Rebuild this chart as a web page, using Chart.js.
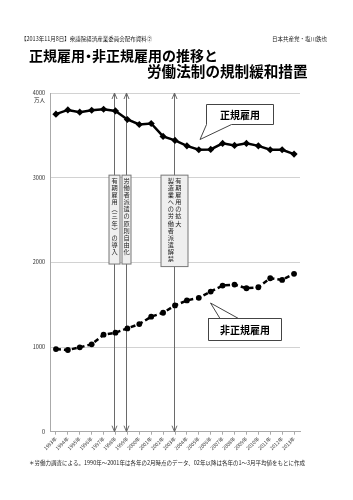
<!DOCTYPE html>
<html lang="ja">
<head>
<meta charset="utf-8">
<script src="https://cdn.jsdelivr.net/npm/chart.js@4/dist/chart.umd.min.js"></script>
<style>
  html, body { margin: 0; padding: 0; background: #fff; }
  #wrap { width: 353px; height: 500px; }
</style>
</head>
<body>
<div id="wrap"><canvas id="employChart" width="353" height="500"></canvas></div>
<script>
const years = ['1993年', '1994年', '1995年', '1996年', '1997年', '1998年', '1999年', '2000年', '2001年', '2002年', '2003年',
  '2004年', '2005年', '2006年', '2007年', '2008年', '2009年', '2010年', '2011年', '2012年', '2013年'];
// 万人
const regular = [3750, 3800, 3773, 3796, 3808, 3788, 3687, 3628, 3640, 3487, 3440,
  3376, 3330, 3334, 3405, 3381, 3405, 3376, 3330, 3330, 3279];
const nonRegular = [976, 965, 996, 1032, 1146, 1169, 1220, 1271, 1358, 1405, 1491,
  1550, 1581, 1655, 1726, 1738, 1694, 1706, 1812, 1793, 1864];

const reformYears = ['1998年', '1999年', '2003年'];
const reformTexts = [
  ['有期雇用︵三年︶の導入'],
  ['労働者派遣の原則自由化'],
  ['有期雇用の拡大', '製造業への労働者派遣解禁'],
];

const headerLeft = '【2013年11月8日】衆議院経済産業委員会配布資料②';
const headerRight = '日本共産党・塩川鉄也';
const titleA = ['正規雇用', '・', '非正規雇用の推移と'];
const titleB = '労働法制の規制緩和措置';
const footnote = '＊労働力調査による。1990年～2001年は各年の2月時点のデータ、02年以降は各年の1～3月平均値をもとに作成';

const JP = '"Noto Sans CJK JP", "Noto Sans", sans-serif';

// arrows + vertical text boxes, drawn under the lines
const reformPlugin = {
  id: 'reforms',
  beforeDatasetsDraw(chart) {
    const { ctx, scales: { x, y } } = chart;
    const top = y.getPixelForValue(4000);
    const bottom = y.getPixelForValue(0);
    ctx.save();
    reformYears.forEach((yr, i) => {
      const px = Math.round(x.getPixelForValue(years.indexOf(yr))) - 0.5;
      ctx.strokeStyle = '#6a6a6a';
      ctx.lineWidth = 1;
      ctx.beginPath();
      ctx.moveTo(px, top);
      ctx.lineTo(px, bottom);
      // arrow heads
      ctx.moveTo(px - 2.5, top + 6);
      ctx.lineTo(px, top);
      ctx.lineTo(px + 2.5, top + 6);
      ctx.moveTo(px - 2.5, bottom - 6);
      ctx.lineTo(px, bottom);
      ctx.lineTo(px + 2.5, bottom - 6);
      ctx.stroke();

      const cols = reformTexts[i];
      const w = cols.length > 1 ? 27 : (i === 0 ? 11 : 9);
      const bTop = y.getPixelForValue(3030);
      const bBot = y.getPixelForValue(cols.length > 1 ? 1950 : 1980);
      ctx.fillStyle = '#efefef';
      ctx.fillRect(px - w / 2, bTop, w, bBot - bTop);
      ctx.strokeStyle = '#777';
      ctx.strokeRect(px - w / 2, bTop, w, bBot - bTop);

      ctx.fillStyle = '#222';
      ctx.font = '6.2px ' + JP;
      ctx.textAlign = 'center';
      ctx.textBaseline = 'middle';
      cols.forEach((txt, c) => {
        // vertical writing, columns right to left
        const cx = cols.length > 1 ? px + 3.8 - c * 7.5 : px;
        [...txt].forEach((ch, k) => {
          ctx.fillText(ch, cx, bTop + 5.5 + k * 7.1);
        });
      });
    });
    ctx.restore();
  },
  afterDraw(chart) {
    const { ctx, scales: { y } } = chart;
    ctx.save();
    ctx.fillStyle = '#222';
    ctx.textBaseline = 'alphabetic';

    ctx.font = '5.5px ' + JP;
    ctx.textAlign = 'left';
    ctx.fillText(headerLeft, 21, 41);
    ctx.fillText(headerRight, 272, 41);

    // title: middle dot is set narrow
    ctx.fillStyle = '#000';
    ctx.font = 'bold 14px ' + JP;
    let tx = 29;
    ctx.fillText(titleA[0], tx, 61);
    tx += ctx.measureText(titleA[0]).width - 3.5;
    ctx.fillText(titleA[1], tx, 61);
    tx += ctx.measureText(titleA[1]).width - 3.5;
    ctx.fillText(titleA[2], tx, 61);
    ctx.font = 'bold 14.6px ' + JP;
    ctx.fillText(titleB, 147, 77);

    ctx.fillStyle = '#222';
    ctx.font = '5.5px ' + JP;
    ctx.fillText(footnote, 29, 465);
    ctx.textAlign = 'right';
    ctx.fillText('万人', 45, y.getPixelForValue(4000) + 9);

    // callouts
    const callout = (label, box, base, tip) => {
      const [l, t, r, b] = box;
      ctx.beginPath();
      ctx.moveTo(l, t);
      ctx.lineTo(r, t);
      ctx.lineTo(r, b);
      if (tip[1] > b) {
        ctx.lineTo(base[1], b);
        ctx.lineTo(tip[0], tip[1]);
        ctx.lineTo(base[0], b);
        ctx.lineTo(l, b);
        ctx.closePath();
      } else {
        ctx.lineTo(l, b);
        ctx.lineTo(l, t);
        ctx.lineTo(base[0], t);
        ctx.lineTo(tip[0], tip[1]);
        ctx.lineTo(base[1], t);
        ctx.closePath();
      }
      ctx.fillStyle = '#fff';
      ctx.fill();
      ctx.strokeStyle = '#444';
      ctx.lineWidth = 1;
      ctx.stroke();
      ctx.fillStyle = '#000';
      ctx.font = 'bold 10px ' + JP;
      ctx.textAlign = 'center';
      ctx.textBaseline = 'middle';
      ctx.fillText(label, (l + r) / 2, (t + b) / 2 + 0.5);
    };
    callout('正規雇用', [206.5, 104.5, 273.5, 124.5], [206.5, 231.5], [200, 139.5]);
    callout('非正規雇用', [208.5, 318.5, 281.5, 340.5], [220, 238.5], [210.5, 303]);
    ctx.restore();
  },
};

new Chart(document.getElementById('employChart'), {
  type: 'line',
  data: {
    labels: years,
    datasets: [
      {
        label: '正規雇用',
        data: regular,
        borderColor: '#000',
        backgroundColor: '#000',
        borderWidth: 2.5,
        pointStyle: 'rectRot',
        pointRadius: 3.6,
        pointBorderWidth: 0,
        tension: 0,
      },
      {
        label: '非正規雇用',
        data: nonRegular,
        borderColor: '#000',
        backgroundColor: '#000',
        borderWidth: 2.5,
        borderDash: [5, 3],
        pointStyle: 'circle',
        pointRadius: 2.9,
        pointBorderWidth: 0,
        tension: 0,
      },
    ],
  },
  options: {
    responsive: false,
    animation: false,
    layout: { padding: { top: 93, right: 53, bottom: 0, left: 0 } },
    plugins: {
      legend: { display: false },
      tooltip: { enabled: false },
    },
    scales: {
      x: {
        offset: true,
        grid: { drawOnChartArea: false, drawTicks: true, tickLength: 3, color: '#aaa' },
        border: { color: '#aaa' },
        ticks: {
          minRotation: 45,
          maxRotation: 45,
          autoSkip: false,
          padding: 1,
          color: '#333',
          font: { size: 5, family: JP },
        },
        afterFit(s) { s.height = 68.3; },
      },
      y: {
        min: 0,
        max: 4000,
        grid: { color: '#d2d2d2', drawTicks: false },
        border: { color: '#aaa' },
        ticks: {
          stepSize: 1000,
          padding: 5,
          color: '#333',
          font: { size: 5.5, family: JP },
          callback: (v) => String(v),
        },
        afterFit(s) { s.width = 50; },
      },
    },
  },
  plugins: [reformPlugin],
});
</script>
</body>
</html>
